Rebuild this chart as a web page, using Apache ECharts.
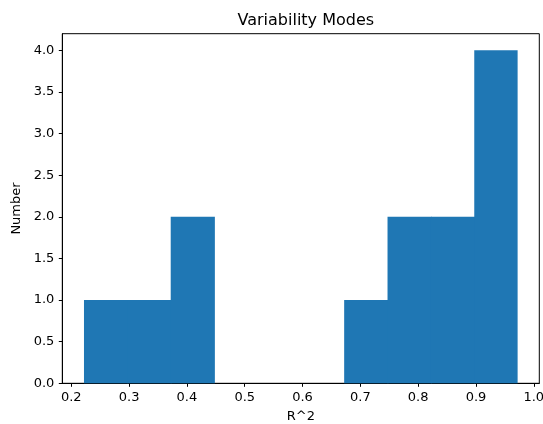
<!DOCTYPE html>
<html>
<head>
<meta charset="utf-8">
<script src="https://cdn.jsdelivr.net/npm/echarts@6/dist/echarts.min.js"></script>
<style>
  html, body { margin: 0; padding: 0; background: #fff; }
  #chart { width: 543px; height: 424px; }
</style>
</head>
<body>
<div id="chart"></div>
<script>
// histogram bin edges (R^2) and counts per bin
const binEdges = [0.222, 0.297, 0.372, 0.447, 0.522, 0.597, 0.672, 0.747, 0.822, 0.897, 0.972];
const counts = [1, 1, 2, 0, 0, 0, 1, 2, 2, 4];
const xTicks = [0.2, 0.3, 0.4, 0.5, 0.6, 0.7, 0.8, 0.9, 1.0];
const yTicks = [0, 0.5, 1, 1.5, 2, 2.5, 3, 3.5, 4];

const bins = counts.map((c, i) => [binEdges[i], binEdges[i + 1], c]);
const lastBin = bins.length - 1;

const font = 'DejaVu Sans';
const chart = echarts.init(document.getElementById('chart'));

chart.setOption({
    backgroundColor: '#ffffff',
    animation: false,
    title: {
        text: 'Variability Modes',
        left: 300.8,
        top: 8,
        textAlign: 'center',
        textStyle: { fontFamily: font, fontSize: 16, fontWeight: 'normal', color: '#000' }
    },
    grid: {
        left: 62.3, right: 3.7, top: 33.7, bottom: 40.7,
        containLabel: false,
        outerBoundsMode: 'none',
        show: true, borderColor: '#000', borderWidth: 1, backgroundColor: 'transparent'
    },
    xAxis: {
        type: 'value',
        min: 0.1845,
        max: 1.0095,
        name: 'R^2',
        nameLocation: 'middle',
        nameGap: 27,
        nameTextStyle: { fontFamily: font, fontSize: 13, color: '#000' },
        axisLine: { show: true, lineStyle: { color: '#000', width: 1 } },
        axisTick: { show: true, customValues: xTicks, length: 3.5, lineStyle: { color: '#000' } },
        axisLabel: {
            customValues: xTicks, margin: 8,
            fontFamily: font, fontSize: 13, color: '#000',
            formatter: v => v.toFixed(1)
        },
        splitLine: { show: false }
    },
    yAxis: {
        type: 'value',
        min: 0,
        max: 4.2,
        name: 'Number',
        nameLocation: 'middle',
        nameGap: 38,
        nameTextStyle: { fontFamily: font, fontSize: 13, color: '#000' },
        axisLine: { show: true, lineStyle: { color: '#000', width: 1 } },
        axisTick: { show: true, customValues: yTicks, length: 3.5, lineStyle: { color: '#000' } },
        axisLabel: {
            customValues: yTicks, margin: 8,
            fontFamily: font, fontSize: 13, color: '#000',
            formatter: v => v.toFixed(1)
        },
        splitLine: { show: false }
    },
    series: [{
        type: 'custom',
        data: bins,
        encode: { x: [0, 1], y: 2 },
        z: 1,
        renderItem: (params, api) => {
            if (api.value(2) <= 0) return null;
            const p0 = api.coord([api.value(0), 0]);
            const p1 = api.coord([api.value(1), api.value(2)]);
            // overlap neighbours a little so no seam shows between bins
            const extra = params.dataIndex < lastBin ? 0.8 : 0;
            return {
                type: 'rect',
                shape: { x: p0[0], y: p1[1], width: p1[0] - p0[0] + extra, height: p0[1] - p1[1] },
                style: { fill: '#1f77b4', stroke: null }
            };
        }
    }]
});
</script>
</body>
</html>
